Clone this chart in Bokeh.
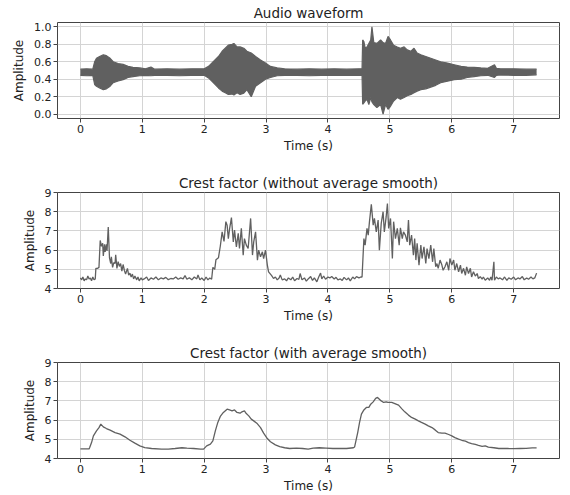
from bokeh.plotting import figure
from bokeh.layouts import column
from bokeh.models import FixedTicker, PrintfTickFormatter, Range1d
from bokeh.embed import file_html
from bokeh.resources import INLINE

# ---------------- data ----------------
wave_t = [0.00, 0.10, 0.20, 0.23, 0.26, 0.31, 0.37, 0.42, 0.48, 0.53, 0.61, 0.69, 0.77, 0.85, 0.96,
          1.05, 1.14, 1.20, 1.40, 1.60, 1.80, 2.00, 2.07, 2.15, 2.23, 2.29, 2.34, 2.39, 2.45, 2.48,
          2.53, 2.58, 2.64, 2.69, 2.76, 2.83, 2.91, 2.99, 3.07, 3.18, 3.30, 3.50, 3.70, 3.90, 4.10,
          4.30, 4.50, 4.55, 4.56, 4.58, 4.60, 4.63, 4.66, 4.69, 4.71, 4.74, 4.79, 4.85, 4.89, 4.93,
          4.97, 5.01, 5.06, 5.12, 5.17, 5.23, 5.28, 5.34, 5.39, 5.44, 5.50, 5.58, 5.66, 5.74, 5.82,
          5.93, 6.04, 6.15, 6.25, 6.36, 6.47, 6.58, 6.69, 6.72, 6.79, 7.00, 7.20, 7.37]
wave_upper = [0.515, 0.52, 0.515, 0.60, 0.64, 0.66, 0.68, 0.67, 0.64, 0.60, 0.58, 0.57, 0.547, 0.536, 0.53,
              0.52, 0.54, 0.515, 0.52, 0.515, 0.52, 0.52, 0.547, 0.604, 0.66, 0.72, 0.755, 0.79, 0.80, 0.81,
              0.77, 0.77, 0.755, 0.72, 0.70, 0.66, 0.62, 0.585, 0.547, 0.53, 0.52, 0.515, 0.52, 0.515, 0.52,
              0.515, 0.52, 0.52, 0.85, 0.83, 0.76, 0.77, 0.81, 0.85, 1.00, 0.82, 0.81, 0.85, 0.82, 0.81,
              0.89, 0.85, 0.79, 0.77, 0.755, 0.77, 0.736, 0.72, 0.755, 0.70, 0.68, 0.66, 0.64, 0.62, 0.60,
              0.585, 0.566, 0.547, 0.54, 0.536, 0.53, 0.525, 0.566, 0.525, 0.52, 0.52, 0.515, 0.515]
wave_lower = [0.445, 0.44, 0.445, 0.34, 0.32, 0.30, 0.28, 0.29, 0.32, 0.36, 0.38, 0.395, 0.42, 0.43, 0.44,
              0.445, 0.44, 0.445, 0.445, 0.44, 0.445, 0.445, 0.415, 0.36, 0.30, 0.264, 0.245, 0.226, 0.23, 0.22,
              0.245, 0.226, 0.24, 0.28, 0.20, 0.32, 0.36, 0.40, 0.42, 0.44, 0.445, 0.445, 0.44, 0.445, 0.445,
              0.445, 0.445, 0.445, 0.113, 0.13, 0.15, 0.17, 0.11, 0.19, 0.14, 0.11, 0.075, 0.11, 0.00, 0.11,
              0.055, 0.09, 0.15, 0.19, 0.17, 0.19, 0.21, 0.226, 0.245, 0.264, 0.28, 0.29, 0.31, 0.33, 0.36,
              0.378, 0.395, 0.40, 0.42, 0.43, 0.44, 0.445, 0.42, 0.445, 0.449, 0.445, 0.445, 0.45]

raw_t = [0.00, 0.02, 0.04, 0.06, 0.08, 0.10, 0.12, 0.14, 0.16, 0.18, 0.20, 0.22, 0.24, 0.25, 0.28, 0.30,
         0.32, 0.34, 0.36, 0.37, 0.39, 0.40, 0.42, 0.43, 0.45, 0.47, 0.49, 0.50, 0.52, 0.54, 0.56, 0.57,
         0.59, 0.61, 0.63, 0.65, 0.67, 0.69, 0.71, 0.73, 0.76, 0.78, 0.80, 0.82, 0.84, 0.86, 0.88, 0.91,
         0.93, 0.95, 0.98, 1.00, 1.03, 1.07, 1.10, 1.14, 1.18, 1.22, 1.26, 1.30, 1.34, 1.38, 1.42, 1.46,
         1.50, 1.54, 1.58, 1.62, 1.66, 1.69, 1.72, 1.76, 1.80, 1.84, 1.88, 1.90, 1.93, 1.96, 2.00, 2.03,
         2.06, 2.09, 2.12, 2.14, 2.17, 2.19, 2.23, 2.26, 2.29, 2.32, 2.35, 2.37, 2.39, 2.41, 2.44, 2.47,
         2.49, 2.52, 2.55, 2.57, 2.60, 2.63, 2.65, 2.68, 2.71, 2.75, 2.78, 2.80, 2.83, 2.86, 2.88, 2.91,
         2.94, 2.96, 2.99, 3.02, 3.04, 3.07, 3.09, 3.12, 3.15, 3.18, 3.21, 3.23, 3.26, 3.30, 3.33, 3.36,
         3.40, 3.43, 3.46, 3.50, 3.53, 3.55, 3.58, 3.62, 3.65, 3.68, 3.72, 3.75, 3.78, 3.82, 3.85, 3.88,
         3.90, 3.93, 3.96, 4.00, 4.03, 4.06, 4.10, 4.13, 4.16, 4.20, 4.23, 4.26, 4.30, 4.33, 4.36, 4.40,
         4.43, 4.46, 4.50, 4.53, 4.55, 4.58, 4.60, 4.63, 4.65, 4.67, 4.70, 4.73, 4.75, 4.78, 4.81, 4.83,
         4.86, 4.89, 4.91, 4.94, 4.96, 4.98, 5.01, 5.04, 5.06, 5.09, 5.12, 5.15, 5.17, 5.20, 5.22, 5.25,
         5.28, 5.30, 5.32, 5.35, 5.38, 5.40, 5.42, 5.44, 5.47, 5.50, 5.52, 5.55, 5.58, 5.60, 5.63, 5.66,
         5.69, 5.71, 5.74, 5.76, 5.78, 5.81, 5.84, 5.86, 5.89, 5.92, 5.95, 5.97, 6.00, 6.03, 6.05, 6.08,
         6.11, 6.14, 6.16, 6.19, 6.22, 6.24, 6.27, 6.30, 6.32, 6.35, 6.38, 6.41, 6.43, 6.46, 6.49, 6.51,
         6.54, 6.58, 6.61, 6.63, 6.65, 6.68, 6.69, 6.72, 6.75, 6.78, 6.82, 6.85, 6.89, 6.92, 6.96, 7.00,
         7.03, 7.07, 7.10, 7.14, 7.17, 7.21, 7.24, 7.28, 7.31, 7.34, 7.37]
raw_v = [4.55, 4.45, 4.60, 4.40, 4.50, 4.45, 4.65, 4.50, 4.55, 4.40, 4.60, 4.45, 4.50, 5.05, 5.05, 5.10,
         6.50, 6.20, 6.35, 5.70, 6.30, 5.90, 6.30, 5.95, 7.20, 5.60, 5.30, 5.65, 5.10, 5.35, 5.30, 5.75,
         5.05, 5.40, 5.15, 5.30, 4.90, 5.25, 4.95, 4.75, 5.05, 4.70, 4.80, 4.60, 4.75, 4.50, 4.65, 4.45,
         4.60, 4.40, 4.55, 4.45, 4.50, 4.60, 4.42, 4.55, 4.48, 4.60, 4.45, 4.55, 4.50, 4.58, 4.46, 4.52,
         4.50, 4.60, 4.48, 4.55, 4.50, 4.68, 4.48, 4.56, 4.45, 4.60, 4.50, 4.70, 4.45, 4.55, 4.42, 4.60,
         4.45, 4.55, 4.48, 5.10, 5.00, 5.50, 5.60, 6.20, 6.95, 6.45, 7.48, 7.30, 6.60, 7.10, 7.69, 6.43,
         7.04, 6.17, 6.87, 6.08, 7.13, 5.74, 6.60, 6.26, 6.08, 7.65, 5.74, 6.43, 6.95, 5.48, 6.00, 5.65,
         5.91, 5.56, 6.00, 5.22, 4.87, 4.75, 4.67, 4.52, 4.60, 4.45, 4.55, 4.70, 4.45, 4.50, 4.40, 4.55,
         4.45, 4.60, 4.40, 4.52, 4.48, 4.78, 4.45, 4.55, 4.38, 4.50, 4.62, 4.42, 4.55, 4.35, 4.60, 4.80,
         4.50, 4.65, 4.48, 4.60, 4.55, 4.62, 4.50, 4.58, 4.45, 4.50, 4.42, 4.58, 4.45, 4.55, 4.40, 4.60,
         4.50, 4.62, 4.55, 4.60, 4.60, 6.60, 6.26, 7.13, 6.78, 7.48, 8.38, 7.30, 7.65, 6.95, 7.56, 6.00,
         7.39, 8.00, 6.95, 7.74, 8.43, 7.13, 7.65, 5.56, 7.48, 6.60, 7.13, 6.26, 7.16, 6.60, 6.95, 6.78,
         6.43, 7.56, 6.26, 6.78, 5.74, 6.60, 5.48, 6.35, 5.22, 6.26, 5.56, 6.17, 5.30, 6.08, 5.56, 6.26,
         5.39, 6.08, 5.13, 5.30, 5.05, 5.48, 5.22, 4.95, 5.13, 5.39, 4.95, 5.56, 5.22, 5.48, 4.95, 5.30,
         4.87, 5.22, 4.78, 5.05, 4.69, 5.13, 4.78, 5.05, 4.60, 4.87, 4.65, 4.78, 4.52, 4.62, 4.49, 4.60,
         4.43, 4.55, 4.43, 4.60, 4.43, 5.39, 4.43, 4.60, 4.50, 4.55, 4.45, 4.60, 4.42, 4.55, 4.48, 4.60,
         4.45, 4.55, 4.50, 4.62, 4.45, 4.55, 4.48, 4.60, 4.50, 4.55, 4.80]

smooth_t = [0.00, 0.14, 0.15, 0.18, 0.21, 0.26, 0.30, 0.33, 0.37, 0.42, 0.48, 0.56, 0.64, 0.72, 0.80, 0.88,
            0.96, 1.04, 1.15, 1.31, 1.42, 1.53, 1.64, 1.72, 1.83, 1.94, 1.99, 2.04, 2.10, 2.14, 2.18, 2.22,
            2.26, 2.31, 2.37, 2.41, 2.45, 2.49, 2.53, 2.58, 2.61, 2.65, 2.68, 2.72, 2.76, 2.80, 2.85, 2.91,
            2.96, 3.02, 3.07, 3.15, 3.22, 3.30, 3.38, 3.49, 3.59, 3.68, 3.76, 3.86, 3.97, 4.08, 4.19, 4.30,
            4.41, 4.43, 4.48, 4.51, 4.54, 4.58, 4.62, 4.66, 4.69, 4.73, 4.77, 4.80, 4.83, 4.86, 4.90, 4.94,
            4.97, 5.03, 5.08, 5.14, 5.19, 5.24, 5.30, 5.35, 5.41, 5.46, 5.51, 5.57, 5.62, 5.68, 5.73, 5.78,
            5.84, 5.89, 5.95, 6.00, 6.05, 6.11, 6.16, 6.22, 6.27, 6.32, 6.38, 6.43, 6.49, 6.54, 6.59, 6.68,
            6.76, 6.90, 7.00, 7.10, 7.20, 7.30, 7.37]
smooth_v = [4.50, 4.50, 4.57, 4.83, 5.18, 5.44, 5.61, 5.79, 5.65, 5.56, 5.48, 5.35, 5.27, 5.13, 4.95, 4.80,
            4.66, 4.57, 4.52, 4.49, 4.49, 4.52, 4.56, 4.54, 4.52, 4.49, 4.49, 4.66, 4.75, 4.92, 5.44, 5.88,
            6.19, 6.40, 6.57, 6.53, 6.48, 6.53, 6.40, 6.36, 6.43, 6.48, 6.34, 6.22, 6.05, 5.96, 5.84, 5.61,
            5.32, 5.04, 4.87, 4.71, 4.62, 4.56, 4.52, 4.54, 4.52, 4.49, 4.54, 4.56, 4.54, 4.52, 4.52, 4.52,
            4.56, 4.60, 5.35, 5.88, 6.31, 6.53, 6.66, 6.66, 6.83, 6.95, 7.13, 7.18, 7.09, 7.00, 6.92, 6.95,
            6.92, 6.92, 6.86, 6.78, 6.60, 6.43, 6.26, 6.14, 6.05, 5.96, 5.88, 5.79, 5.70, 5.61, 5.49, 5.35,
            5.32, 5.32, 5.25, 5.18, 5.09, 5.01, 4.95, 4.90, 4.83, 4.78, 4.73, 4.68, 4.63, 4.66, 4.59, 4.56,
            4.52, 4.52, 4.51, 4.52, 4.53, 4.55, 4.55]

x_ticks = [0, 1, 2, 3, 4, 5, 6, 7]
wave_y_ticks = [0.0, 0.2, 0.4, 0.6, 0.8, 1.0]
crest_y_ticks = [4, 5, 6, 7, 8, 9]

titles = ["Audio waveform", "Crest factor (without average smooth)", "Crest factor (with average smooth)"]
x_label = "Time (s)"
y_label = "Amplitude"

# ---------------- styling ----------------
LINE = "#606060"
TEXT = "#222222"
FONT = "DejaVu Sans"


def make_fig(title, y_range, y_ticks, fmt, bottom):
    p = figure(frame_width=502, frame_height=96, output_backend="svg", toolbar_location=None,
               x_range=Range1d(-0.37, 7.74), y_range=y_range,
               min_border_left=57, min_border_right=8, min_border_top=22, min_border_bottom=bottom)
    p.title.text = title
    p.title.align = "center"
    p.title.text_font = FONT
    p.title.text_font_size = "13.5px"
    p.title.text_font_style = "normal"
    p.title.text_color = TEXT
    p.title.standoff = 4
    p.outline_line_color = "#444444"
    p.outline_line_width = 1
    p.background_fill_color = "white"
    p.border_fill_color = "white"
    for ax in (p.xaxis[0], p.yaxis[0]):
        ax.axis_line_color = None
        ax.major_tick_line_color = "#444444"
        ax.major_tick_out = 4
        ax.major_tick_in = 0
        ax.minor_tick_line_color = None
        ax.major_label_text_font = FONT
        ax.major_label_text_font_size = "11px"
        ax.major_label_text_color = TEXT
        ax.major_label_standoff = 2
        ax.axis_label_text_font = FONT
        ax.axis_label_text_font_size = "12px"
        ax.axis_label_text_font_style = "normal"
        ax.axis_label_text_color = TEXT
        ax.axis_label_standoff = 3
    p.yaxis[0].axis_label_standoff = 5
    p.xaxis[0].ticker = FixedTicker(ticks=x_ticks)
    p.yaxis[0].ticker = FixedTicker(ticks=y_ticks)
    p.yaxis[0].formatter = PrintfTickFormatter(format=fmt)
    p.xaxis[0].axis_label = x_label
    p.yaxis[0].axis_label = y_label
    p.grid.grid_line_color = "#d4d4d4"
    p.grid.grid_line_width = 1
    return p


p1 = make_fig(titles[0], Range1d(-0.05, 1.05), wave_y_ticks, "%.1f", 52)
p1.varea(x=wave_t, y1=wave_lower, y2=wave_upper, fill_color=LINE, fill_alpha=1.0)
p1.line(wave_t, wave_upper, line_color=LINE, line_width=1.2)
p1.line(wave_t, wave_lower, line_color=LINE, line_width=1.2)

p2 = make_fig(titles[1], Range1d(4, 9), crest_y_ticks, "%d", 52)
p2.line(raw_t, raw_v, line_color=LINE, line_width=1.3)

p3 = make_fig(titles[2], Range1d(4, 9), crest_y_ticks, "%d", 0)
p3.line(smooth_t, smooth_v, line_color=LINE, line_width=1.3)

layout = column(p1, p2, p3, spacing=0)

open("out.html", "w").write(file_html(layout, INLINE))
